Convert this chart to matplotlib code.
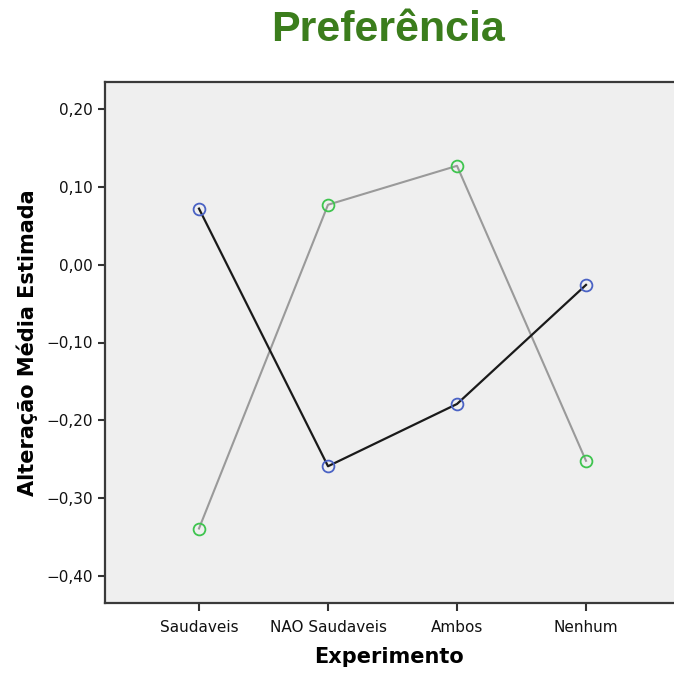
import matplotlib
matplotlib.use("Agg")
import matplotlib.pyplot as plt
from matplotlib.ticker import FuncFormatter

# ------------------------------------------------------------------ #
#  DONNEES                                     #
# ------------------------------------------------------------------ #
CATEGORIAS = ["Saudaveis", "NAO Saudaveis", "Ambos", "Nenhum"]
SERIE_AZUL = [0.072, -0.259, -0.179, -0.026]    # linha preta, circulos azuis
SERIE_VERDE = [-0.339, 0.077, 0.127, -0.252]    # linha cinza, circulos verdes
Y_TICKS = [0.20, 0.10, 0.00, -0.10, -0.20, -0.30, -0.40]

TITULO = "Preferência"
XLABEL = "Experimento"
YLABEL = "Alteração Média Estimada"

VERDE_TIT, AZUL, VERDE = "#3b7d1c", "#4a62c4", "#3ec44e"

fig = plt.figure(figsize=(6.74, 6.74), dpi=100)
ax = fig.add_axes([105 / 674, 1 - 603 / 674, 1 - 105 / 674, (603 - 82) / 674])
ax.set_facecolor("#efefef")

x = list(range(len(CATEGORIAS)))
ax.plot(x, SERIE_VERDE, color="#9a9a9a", lw=1.5, zorder=2)
ax.plot(x, SERIE_AZUL, color="#1a1a1a", lw=1.6, zorder=3)
ax.plot(x, SERIE_VERDE, ls="none", marker="o", ms=8.5, mfc="none", mec=VERDE, mew=1.3, zorder=4)
ax.plot(x, SERIE_AZUL, ls="none", marker="o", ms=8.5, mfc="none", mec=AZUL, mew=1.3, zorder=4)

ax.set_xlim(-94 / 129, (674 - 199) / 129)
ax.set_ylim(-0.4347, 0.2347)
ax.set_xticks(x)
ax.set_xticklabels(CATEGORIAS, fontsize=11, color="#111111")
ax.set_yticks(Y_TICKS)
ax.yaxis.set_major_formatter(FuncFormatter(lambda v, p: f"{v:.2f}".replace(".", ",").replace("-", "−")))
ax.tick_params(axis="y", labelsize=11, labelcolor="#111111", length=5, width=1.5, color="#333333")
ax.tick_params(axis="x", length=6, width=1.5, color="#333333", pad=6)

for s in ["top", "left", "bottom"]:
    ax.spines[s].set_color("#3a3a3a")
    ax.spines[s].set_linewidth(1.6)
ax.spines["right"].set_visible(False)

ax.set_xlabel(XLABEL, fontsize=15, fontweight="bold", labelpad=9)
ax.set_ylabel(YLABEL, fontsize=15, fontweight="bold", labelpad=6)

fig.text(388 / 674, 1 - 30 / 674, TITULO, ha="center", va="center", fontsize=31,
         fontweight="bold", color=VERDE_TIT, family="Liberation Sans")

fig.savefig("out.png", dpi=100, facecolor="white")
